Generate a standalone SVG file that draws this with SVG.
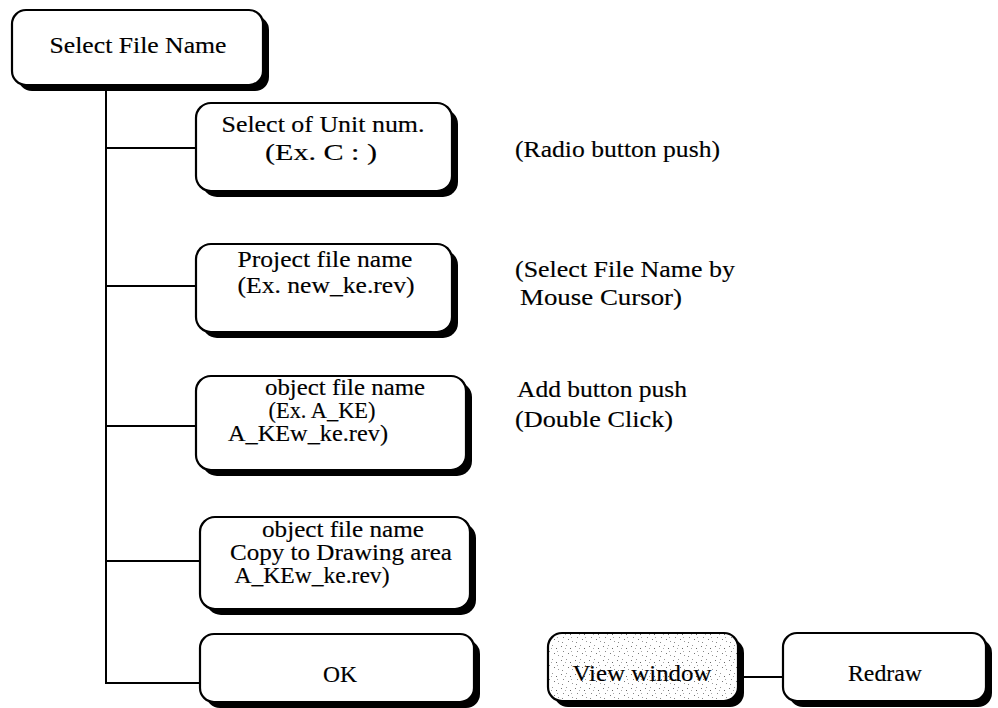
<svg xmlns="http://www.w3.org/2000/svg" width="998" height="708" viewBox="0 0 998 708">
  <style>
    text { font-family: "Liberation Serif", "Times New Roman", serif; font-size: 23px; fill: #000; stroke: #000; stroke-width: 0.15; }
    .mid { text-anchor: middle; }
    .box { fill: #fff; stroke: #000; stroke-width: 2.2; }
    .shade { fill: #000; }
    .dots { fill: url(#stipple); stroke: #000; stroke-width: 2.2; }
    .link { stroke: #000; stroke-width: 2; fill: none; }
  </style>
  <defs>
    <!-- light speckled fill for the highlighted window button -->
    <pattern id="stipple" width="14" height="14" patternUnits="userSpaceOnUse">
      <rect width="14" height="14" fill="#fff"/>
      <rect x="1" y="2" width="1" height="1" fill="#777"/>
      <rect x="6" y="1" width="1" height="1" fill="#999"/>
      <rect x="10" y="4" width="1" height="1" fill="#666"/>
      <rect x="3" y="7" width="1" height="1" fill="#888"/>
      <rect x="8" y="9" width="1" height="1" fill="#777"/>
      <rect x="12" y="11" width="1" height="1" fill="#999"/>
      <rect x="2" y="12" width="1" height="1" fill="#888"/>
      <rect x="11" y="7" width="1" height="1" fill="#aaa"/>
      <rect x="5" y="4" width="1" height="1" fill="#aaa"/>
    </pattern>
  </defs>

  <!-- connectors -->
  <g id="connectors">
    <line class="link" x1="106" y1="88" x2="106" y2="684" stroke-width="2.6"/>
    <line class="link" x1="106" y1="148" x2="196" y2="148"/>
    <line class="link" x1="106" y1="286" x2="196" y2="286"/>
    <line class="link" x1="106" y1="426" x2="196" y2="426"/>
    <line class="link" x1="106" y1="561" x2="200" y2="561"/>
    <line class="link" x1="106" y1="683" x2="200" y2="683"/>
    <line class="link" x1="738" y1="677" x2="783" y2="677"/>
  </g>

  <g id="select-file-name">
    <rect class="shade" x="18" y="16" width="251" height="75" rx="14"/>
    <rect class="box" x="12" y="10" width="251" height="75" rx="14"/>
    <text class="mid" x="138" y="53" textLength="177" lengthAdjust="spacingAndGlyphs">Select File Name</text>
  </g>

  <g id="unit-num">
    <rect class="shade" x="202" y="109" width="256" height="88" rx="15"/>
    <rect class="box" x="196" y="103" width="256" height="88" rx="15"/>
    <text class="mid" x="323" y="132" textLength="203" lengthAdjust="spacingAndGlyphs">Select of Unit num.</text>
    <text class="mid" x="321" y="160" textLength="112" lengthAdjust="spacingAndGlyphs">(Ex. C : )</text>
  </g>

  <g id="project-file">
    <rect class="shade" x="202" y="250" width="256" height="88" rx="15"/>
    <rect class="box" x="196" y="244" width="256" height="88" rx="15"/>
    <text class="mid" x="325" y="267" textLength="175" lengthAdjust="spacingAndGlyphs">Project file name</text>
    <text class="mid" x="326" y="293" textLength="177" lengthAdjust="spacingAndGlyphs">(Ex. new_ke.rev)</text>
  </g>

  <g id="object-file">
    <rect class="shade" x="202" y="382" width="270" height="94" rx="15"/>
    <rect class="box" x="196" y="376" width="270" height="94" rx="15"/>
    <text class="mid" x="345" y="395" textLength="160" lengthAdjust="spacingAndGlyphs">object file name</text>
    <text class="mid" x="322" y="418" textLength="107" lengthAdjust="spacingAndGlyphs">(Ex. A_KE)</text>
    <text class="mid" x="308" y="441" textLength="160" lengthAdjust="spacingAndGlyphs">A_KEw_ke.rev)</text>
  </g>

  <g id="copy-to-drawing">
    <rect class="shade" x="206" y="523" width="270" height="92" rx="15"/>
    <rect class="box" x="200" y="517" width="270" height="92" rx="15"/>
    <text class="mid" x="343" y="537" textLength="162" lengthAdjust="spacingAndGlyphs">object file name</text>
    <text class="mid" x="341" y="560" textLength="222" lengthAdjust="spacingAndGlyphs">Copy to Drawing area</text>
    <text class="mid" x="312" y="583" textLength="155" lengthAdjust="spacingAndGlyphs">A_KEw_ke.rev)</text>
  </g>

  <g id="ok">
    <rect class="shade" x="206" y="640" width="274" height="68" rx="14"/>
    <rect class="box" x="200" y="634" width="274" height="68" rx="14"/>
    <text class="mid" x="340" y="682" textLength="34" lengthAdjust="spacingAndGlyphs">OK</text>
  </g>

  <g id="view-window">
    <rect class="shade" x="554" y="639" width="190" height="68" rx="14"/>
    <rect class="dots" x="548" y="633" width="190" height="68" rx="14"/>
    <text class="mid" x="642" y="681" textLength="139" lengthAdjust="spacingAndGlyphs">View window</text>
  </g>

  <g id="redraw">
    <rect class="shade" x="789" y="639" width="203" height="68" rx="14"/>
    <rect class="box" x="783" y="633" width="203" height="68" rx="14"/>
    <text class="mid" x="885" y="681" textLength="74" lengthAdjust="spacingAndGlyphs">Redraw</text>
  </g>

  <!-- operation notes -->
  <g id="notes">
    <text x="515" y="157" textLength="205" lengthAdjust="spacingAndGlyphs">(Radio button push)</text>
    <text x="515" y="277" textLength="220" lengthAdjust="spacingAndGlyphs">(Select File Name by</text>
    <text x="520" y="305" textLength="162" lengthAdjust="spacingAndGlyphs">Mouse Cursor)</text>
    <text x="517" y="397" textLength="170" lengthAdjust="spacingAndGlyphs">Add button push</text>
    <text x="515" y="427" textLength="158" lengthAdjust="spacingAndGlyphs">(Double Click)</text>
  </g>
</svg>
